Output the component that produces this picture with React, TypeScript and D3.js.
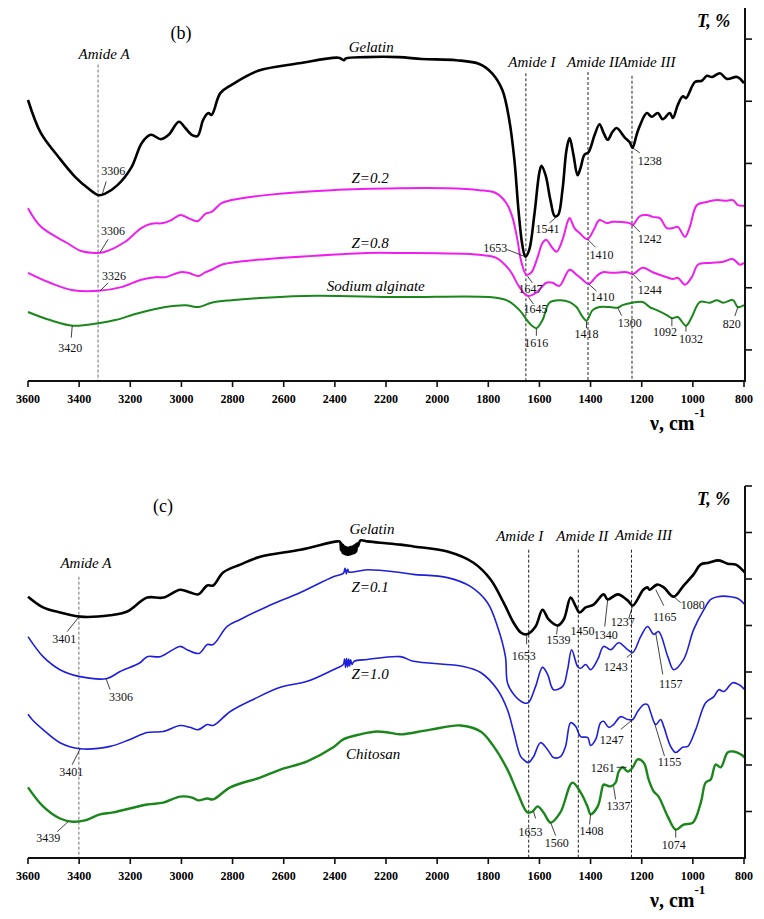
import React from 'react';
import * as d3 from 'd3';

type P = [number, number];

// ---------- shared ----------
const NU_TICKS = [3600, 3400, 3200, 3000, 2800, 2600, 2400, 2200, 2000, 1800, 1600, 1400, 1200, 1000, 800];
const T_TICKS_B = [0, 10, 20, 30, 40, 50];
const T_TICKS_C = [0, 10, 20, 30, 40, 50, 60, 70];

// ---------- panel (b) ----------
const gelatinB: P[] = [
  [3600, 40.2], [3550, 34.9], [3480, 31.0], [3415, 27.8], [3365, 26.0], [3325, 24.9], [3300, 25.1], [3250, 26.5],
  [3195, 29.4], [3155, 33.3], [3120, 34.6], [3080, 33.9], [3050, 34.6], [3010, 36.7], [2985, 35.7], [2960, 34.6],
  [2937, 34.4], [2915, 37.0], [2895, 38.1], [2882, 37.8], [2848, 41.3], [2805, 42.6], [2700, 44.9], [2540, 46.1],
  [2385, 47.0], [2365, 46.6], [2357, 46.9], [2280, 47.1], [2150, 47.1], [2060, 46.8], [1925, 46.6], [1835, 46.0],
  [1785, 44.5], [1745, 41.8], [1718, 37.0], [1698, 30.6], [1682, 22.5], [1667, 16.9], [1655, 15.0], [1640, 16.1],
  [1620, 21.7], [1600, 28.6], [1592, 29.6], [1576, 28.1], [1557, 24.1], [1540, 21.5], [1527, 21.7], [1510, 25.7],
  [1494, 32.2], [1482, 34.1], [1467, 31.4], [1451, 28.1], [1439, 29.3], [1424, 31.4], [1408, 31.8], [1384, 34.6],
  [1365, 36.3], [1349, 34.9], [1333, 33.8], [1314, 35.1], [1298, 35.7], [1267, 34.2], [1247, 33.4], [1236, 32.5],
  [1220, 34.6], [1208, 36.0], [1180, 38.1], [1161, 37.5], [1137, 38.1], [1118, 37.1], [1090, 38.1], [1078, 37.3],
  [1059, 39.4], [1039, 40.8], [1027, 40.5], [992, 43.1], [965, 43.3], [945, 44.1], [925, 43.9], [894, 44.5],
  [867, 43.6], [827, 43.9], [800, 42.9],
];
const z02B: P[] = [
  [3600, 22.8], [3549, 19.8], [3447, 17.2], [3392, 15.9], [3333, 15.6], [3298, 15.8], [3220, 17.4], [3157, 19.6],
  [3118, 20.3], [3071, 20.4], [3039, 20.9], [3004, 21.7], [2973, 21.2], [2937, 20.7], [2906, 21.9], [2882, 22.2],
  [2843, 23.6], [2804, 24.1], [2671, 24.9], [2412, 25.7], [2149, 26.0], [1965, 26.0], [1835, 25.7], [1769, 25.2],
  [1729, 23.6], [1706, 21.4], [1686, 17.7], [1671, 14.2], [1651, 12.1], [1631, 12.5], [1608, 14.8], [1588, 17.2],
  [1573, 17.7], [1553, 16.6], [1533, 15.8], [1510, 17.7], [1490, 20.6], [1482, 21.2], [1463, 19.6], [1443, 18.8],
  [1412, 17.8], [1388, 19.3], [1365, 20.9], [1337, 20.4], [1314, 20.6], [1247, 20.4], [1235, 20.1], [1208, 21.5],
  [1180, 21.7], [1157, 21.4], [1129, 21.2], [1102, 19.6], [1078, 19.6], [1059, 19.8], [1031, 18.2], [1012, 19.8],
  [984, 23.3], [945, 23.8], [906, 24.1], [867, 24.0], [843, 24.1], [824, 23.3], [800, 23.2],
];
const z08B: P[] = [
  [3600, 12.4], [3514, 10.8], [3424, 9.6], [3325, 9.5], [3235, 10.1], [3157, 11.3], [3102, 11.7], [3063, 11.7],
  [3004, 12.5], [2973, 12.4], [2933, 11.9], [2906, 12.5], [2882, 12.9], [2843, 13.7], [2776, 14.2], [2671, 14.6],
  [2412, 15.3], [2278, 15.6], [2149, 15.6], [1835, 15.3], [1769, 14.8], [1718, 12.9], [1678, 10.1], [1647, 8.7],
  [1612, 9.2], [1573, 10.8], [1549, 10.8], [1522, 10.3], [1482, 12.9], [1455, 12.1], [1431, 11.3], [1408, 10.6],
  [1376, 11.9], [1353, 12.5], [1314, 12.4], [1259, 12.5], [1235, 12.2], [1196, 13.2], [1157, 12.5], [1102, 11.7],
  [1078, 11.4], [1059, 11.6], [1031, 10.5], [1004, 11.7], [980, 13.7], [933, 14.0], [882, 14.2], [843, 14.6],
  [816, 13.7], [800, 14.0],
];
const alginateB: P[] = [
  [3600, 6.1], [3514, 4.8], [3424, 3.9], [3325, 4.3], [3259, 4.8], [3169, 5.9], [3063, 6.9], [2984, 7.2],
  [2933, 6.9], [2882, 7.6], [2804, 8.0], [2671, 8.4], [2475, 8.7], [2149, 8.5], [1796, 8.5], [1729, 8.0],
  [1678, 6.4], [1639, 4.3], [1612, 3.5], [1588, 4.8], [1561, 7.6], [1522, 8.0], [1482, 7.7], [1455, 6.9],
  [1431, 5.3], [1416, 4.7], [1392, 6.4], [1365, 6.9], [1325, 6.9], [1294, 6.8], [1275, 7.2], [1235, 7.6],
  [1196, 7.7], [1169, 6.9], [1141, 6.4], [1102, 5.6], [1082, 5.1], [1059, 5.3], [1027, 3.9], [1004, 5.3],
  [973, 7.7], [933, 7.6], [906, 8.0], [882, 7.6], [843, 8.0], [824, 6.9], [800, 7.2],
];

// ---------- panel (c) ----------
const gelatinC: P[] = [
  [3600, 46.2], [3541, 43.9], [3475, 42.8], [3396, 41.9], [3279, 42.2], [3212, 43.0], [3134, 46.0], [3071, 46.0],
  [3005, 47.7], [2966, 47.1], [2934, 46.7], [2899, 48.6], [2876, 48.6], [2837, 51.4], [2770, 53.1], [2692, 54.8],
  [2535, 56.3], [2390, 58.1], [2380, 58.0], [2376, 56.2], [2373, 57.6], [2370, 55.6], [2367, 57.3], [2364, 55.4],
  [2361, 57.0], [2358, 55.3], [2355, 56.8], [2352, 55.2], [2349, 56.7], [2346, 55.2], [2343, 56.8], [2340, 55.3],
  [2337, 56.9], [2334, 55.4], [2331, 57.0], [2328, 55.5], [2325, 57.2], [2322, 55.6], [2319, 57.4], [2316, 55.9],
  [2313, 57.7], [2310, 57.0], [2300, 58.3], [2273, 58.1], [2222, 57.8], [2144, 57.4], [2093, 57.0], [1960, 55.9],
  [1858, 53.5], [1791, 49.9], [1740, 44.9], [1701, 40.6], [1673, 38.5], [1650, 38.1], [1615, 39.8], [1588, 43.4],
  [1564, 41.3], [1529, 40.0], [1505, 41.3], [1478, 46.0], [1458, 44.1], [1443, 42.8], [1419, 43.9], [1388, 44.5],
  [1349, 46.7], [1333, 45.6], [1294, 46.7], [1255, 45.4], [1235, 44.3], [1194, 47.7], [1178, 48.2], [1170, 47.7],
  [1139, 48.8], [1114, 48.2], [1075, 46.2], [1036, 48.6], [997, 51.0], [970, 53.1], [938, 53.5], [899, 54.0],
  [864, 53.3], [832, 53.1], [797, 51.4],
];
const z01C: P[] = [
  [3600, 37.6], [3541, 33.3], [3475, 30.5], [3396, 29.0], [3291, 28.6], [3240, 30.1], [3162, 32.0], [3134, 33.3],
  [3083, 33.3], [3005, 35.5], [2978, 34.8], [2931, 34.0], [2899, 35.9], [2876, 35.9], [2821, 39.8], [2770, 41.3],
  [2664, 44.1], [2535, 47.1], [2406, 50.5], [2367, 51.2], [2360, 52.3], [2355, 51.1], [2350, 52.1], [2345, 51.5],
  [2273, 52.0], [2144, 51.4], [2093, 51.0], [1960, 50.3], [1870, 48.4], [1803, 44.9], [1764, 39.8], [1733, 33.3],
  [1725, 27.7], [1701, 25.2], [1662, 23.4], [1643, 23.4], [1615, 26.9], [1588, 31.0], [1568, 29.5], [1545, 26.2],
  [1509, 26.9], [1490, 30.5], [1474, 34.8], [1451, 31.2], [1439, 30.8], [1419, 31.6], [1400, 30.5], [1372, 32.7],
  [1349, 35.5], [1321, 34.8], [1290, 36.3], [1255, 34.8], [1235, 34.2], [1204, 37.6], [1177, 39.8], [1153, 38.1],
  [1134, 38.7], [1098, 33.3], [1075, 30.5], [1036, 32.7], [997, 39.1], [957, 43.4], [930, 45.6], [903, 46.2],
  [852, 46.2], [824, 45.8], [797, 44.5],
];
const z10C: P[] = [
  [3600, 20.9], [3584, 19.8], [3541, 17.6], [3475, 14.8], [3396, 13.5], [3279, 14.0], [3201, 15.5], [3134, 17.0],
  [3071, 17.2], [3005, 18.5], [2966, 18.1], [2934, 17.6], [2899, 18.7], [2876, 18.5], [2809, 21.5], [2719, 24.1],
  [2613, 26.7], [2508, 28.0], [2406, 30.5], [2367, 31.6], [2362, 32.8], [2358, 31.0], [2354, 32.9], [2350, 31.1],
  [2346, 32.8], [2342, 31.3], [2338, 32.6], [2333, 31.6], [2325, 32.3], [2273, 32.7], [2144, 33.3], [2093, 32.3],
  [1897, 31.2], [1830, 29.9], [1764, 26.2], [1725, 21.9], [1701, 17.2], [1673, 11.8], [1654, 10.8], [1643, 10.5],
  [1623, 11.8], [1596, 14.8], [1568, 13.3], [1545, 11.6], [1518, 11.8], [1498, 14.0], [1478, 19.1], [1458, 18.3],
  [1439, 16.1], [1411, 15.9], [1400, 14.2], [1380, 15.5], [1361, 19.1], [1349, 19.4], [1329, 18.1], [1310, 18.7],
  [1282, 20.4], [1255, 19.8], [1235, 19.8], [1216, 21.5], [1192, 23.0], [1177, 23.0], [1165, 21.3], [1145, 18.7],
  [1126, 19.8], [1114, 18.3], [1087, 14.0], [1067, 12.7], [1040, 13.8], [1020, 14.0], [989, 17.6], [950, 23.4],
  [918, 24.7], [899, 26.2], [879, 25.8], [844, 27.7], [820, 27.3], [797, 26.2],
];
const chitosanC: P[] = [
  [3600, 5.2], [3541, 1.1], [3475, -1.5], [3424, -2.2], [3377, -1.9], [3318, -0.6], [3267, -0.2], [3134, 1.5],
  [3071, 1.9], [3005, 3.2], [2958, 3.0], [2934, 2.4], [2899, 2.8], [2876, 2.6], [2809, 5.2], [2692, 7.3],
  [2613, 9.0], [2508, 10.8], [2406, 13.8], [2367, 15.5], [2300, 16.6], [2234, 17.2], [2144, 16.6], [2132, 16.6],
  [2026, 17.6], [1909, 18.5], [1830, 17.2], [1779, 14.0], [1725, 9.0], [1686, 4.1], [1647, -0.2], [1627, 0.0],
  [1607, 1.1], [1584, -0.2], [1556, -2.4], [1518, -0.2], [1471, 6.2], [1439, 4.1], [1411, 0.9], [1400, -0.6],
  [1372, 1.1], [1353, 5.4], [1349, 5.8], [1321, 5.4], [1302, 6.2], [1290, 8.6], [1275, 9.5], [1255, 8.6],
  [1235, 9.5], [1216, 11.2], [1192, 10.5], [1173, 6.9], [1153, 4.3], [1134, 3.2], [1098, -1.1], [1067, -3.9],
  [1036, -2.8], [1000, -2.4], [969, 1.9], [950, 6.2], [930, 6.9], [911, 10.1], [891, 9.5], [864, 12.7],
  [840, 12.9], [813, 12.3], [797, 11.6],
];

// amide reference lines: wavenumber, label, top of line (T units)
const amideB = [
  { nu: 3326, label: 'Amide A', top: 45.9, gray: true },
  { nu: 1653, label: 'Amide I', top: 44.5, gray: false },
  { nu: 1410, label: 'Amide II', top: 44.7, gray: false },
  { nu: 1238, label: 'Amide III', top: 44.1, gray: false },
];
const amideC = [
  { nu: 3401, label: 'Amide A', top: 50.5, gray: true },
  { nu: 1642, label: 'Amide I', top: 56.3, gray: false },
  { nu: 1448, label: 'Amide II', top: 56.3, gray: false },
  { nu: 1240, label: 'Amide III', top: 56.3, gray: false },
];

// peak annotations: text, anchor (nu, T)
const peaksB = [
  { text: '3306', nu: 3310, t: 25.0 }, { text: '1238', nu: 1235, t: 32.5 }, { text: '1541', nu: 1533, t: 21.4 },
  { text: '1653', nu: 1655, t: 15.0 }, { text: '1647', nu: 1647, t: 11.9 }, { text: '1645', nu: 1643, t: 8.5 },
  { text: '1410', nu: 1412, t: 17.8 }, { text: '1242', nu: 1235, t: 20.1 }, { text: '1410', nu: 1408, t: 10.6 },
  { text: '1244', nu: 1235, t: 12.2 }, { text: '1616', nu: 1612, t: 3.4 }, { text: '1418', nu: 1416, t: 4.6 },
  { text: '1300', nu: 1294, t: 6.8 }, { text: '1092', nu: 1082, t: 5.1 }, { text: '1032', nu: 1027, t: 3.9 },
  { text: '820', nu: 824, t: 6.9 }, { text: '3306', nu: 3318, t: 15.7 }, { text: '3326', nu: 3318, t: 9.5 },
  { text: '3420', nu: 3427, t: 3.9 },
];
// leader-end and text-centre offsets (px) for each annotation above
const peakOffsetsB: [number, number, number, number][] = [
  [4, -13, 11, -24], [7, 5, 17, 13], [-7, 6, -9, 12], [-18, -7, -30, -9], [5, 7, 3, 13], [5, 7, 7, 12],
  [8, 8, 14, 16], [7, 7, 17, 14], [8, 7, 14, 13], [8, 8, 17, 16], [0, 7, 0, 14], [0, 7, 0, 13],
  [4, 8, 12, 15], [0, 8, -7, 14], [0, 6, 5, 13], [-3, 9, -6, 17], [8, -13, 13, -21], [8, -8, 14, -15],
  [-1, 12, -2, 22],
];
const peaksC = [
  { text: '3401', nu: 3400, t: 41.9 }, { text: '1653', nu: 1650, t: 38.1 }, { text: '1539', nu: 1529, t: 40.0 },
  { text: '1450', nu: 1443, t: 42.8 }, { text: '1340', nu: 1333, t: 45.6 }, { text: '1237', nu: 1235, t: 44.3 },
  { text: '1165', nu: 1145, t: 47.7 }, { text: '1080', nu: 1075, t: 46.2 }, { text: '3306', nu: 3295, t: 28.6 },
  { text: '1243', nu: 1235, t: 34.2 }, { text: '1157', nu: 1145, t: 38.3 }, { text: '3401', nu: 3396, t: 13.5 },
  { text: '1247', nu: 1235, t: 19.8 }, { text: '1155', nu: 1150, t: 19.0 }, { text: '3439', nu: 3443, t: -2.2 },
  { text: '1653', nu: 1623, t: 0.0 }, { text: '1560', nu: 1556, t: -2.4 }, { text: '1408', nu: 1400, t: -0.6 },
  { text: '1337', nu: 1310, t: 5.4 }, { text: '1261', nu: 1259, t: 9.5 }, { text: '1074', nu: 1067, t: -3.9 },
];
const peakOffsetsC: [number, number, number, number][] = [
  [-12, 15, -15, 22], [0, 10, -3, 22], [-1, 9, 1, 14], [0, 0, 3, 19], [-3, 27, -2, 36], [-4, 13, -10, 16],
  [8, 16, 9, 27], [7, 6, 19, 8], [4, 11, 15, 18], [-6, 5, -17, 15], [7, 41, 15, 51], [-8, 16, -9, 23],
  [-12, 10, -21, 21], [10, 33, 15, 39], [-11, 10, -20, 16], [2, 7, -3, 20], [5, 13, 6, 20], [-1, 10, 1, 17],
  [2, 13, 5, 20], [-10, 0, -24, 1], [0, 8, -2, 15],
];

const seriesNamesB = [
  { text: 'Gelatin', nu: 2258, t: 47.9 }, { text: 'Z=0.2', nu: 2262, t: 26.9 },
  { text: 'Z=0.8', nu: 2262, t: 16.4 }, { text: 'Sodium alginate', nu: 2240, t: 9.5 },
];
const seriesNamesC = [
  { text: 'Gelatin', nu: 2255, t: 59.6 }, { text: 'Z=0.1', nu: 2262, t: 47.1 },
  { text: 'Z=1.0', nu: 2262, t: 28.6 }, { text: 'Chitosan', nu: 2250, t: 11.2 },
];

const SERIF = "'Liberation Serif', 'Times New Roman', Times, serif";
const BLACK = '#000000';
const MAGENTA = '#ee1fee';
const BLUE = '#1f1fd8';
const GREEN = '#1b861b';

interface PanelProps {
  tag: string;
  yDomain: [number, number];
  yRange: [number, number];
  yTicks: number[];
  series: { data: P[]; color: string; width: number }[];
  amides: { nu: number; label: string; top: number; gray: boolean }[];
  amideText: { dx: number; baseline: number }[];
  peaks: { text: string; nu: number; t: number }[];
  offsets: [number, number, number, number][];
  names: { text: string; nu: number; t: number }[];
  tagPos: [number, number];
}

const x = d3.scaleLinear().domain([3600, 800]).range([28, 744]);

function Panel(p: PanelProps) {
  const y = d3.scaleLinear().domain(p.yDomain).range(p.yRange);
  const axisY = p.yRange[0];
  const topY = p.yRange[1];
  const axisX = 745;
  const line = d3
    .line<P>()
    .x((d) => x(d[0]))
    .y((d) => y(d[1]))
    .curve(d3.curveCatmullRom.alpha(0.5));
  return (
    <g>
      {/* amide lines */}
      {p.amides.map((a, i) => (
        <g key={'a' + i}>
          <line
            x1={x(a.nu)}
            x2={x(a.nu)}
            y1={y(a.top)}
            y2={axisY}
            stroke={a.gray ? '#6f6f6f' : '#222'}
            strokeWidth={1}
            strokeDasharray="3,2"
          />
          <text
            x={x(a.nu) + p.amideText[i].dx}
            y={p.amideText[i].baseline}
            textAnchor="middle"
            fontFamily={SERIF}
            fontStyle="italic"
            fontSize={15}
          >
            {a.label}
          </text>
        </g>
      ))}
      {/* curves */}
      {p.series.map((s, i) => (
        <path key={'s' + i} d={line(s.data) || ''} fill="none" stroke={s.color} strokeWidth={s.width} strokeLinejoin="round" />
      ))}
      {/* series names */}
      {p.names.map((n, i) => (
        <text key={'n' + i} x={x(n.nu)} y={y(n.t)} textAnchor="middle" fontFamily={SERIF} fontStyle="italic" fontSize={15}>
          {n.text}
        </text>
      ))}
      {/* peak annotations */}
      {p.peaks.map((pk, i) => {
        const ax = x(pk.nu);
        const ay = y(pk.t);
        const o = p.offsets[i];
        return (
          <g key={'p' + i}>
            {(o[0] !== 0 || o[1] !== 0) && (
              <line x1={ax} y1={ay} x2={ax + o[0]} y2={ay + o[1]} stroke="#111" strokeWidth={0.8} />
            )}
            <text
              x={ax + o[2]}
              y={ay + o[3]}
              textAnchor="middle"
              dominantBaseline="central"
              fontFamily={SERIF}
              fontSize={12}
              fill="#111"
            >
              {pk.text}
            </text>
          </g>
        );
      })}
      {/* bottom axis */}
      <line x1={x(3600)} x2={axisX + 1} y1={axisY} y2={axisY} stroke="#111" strokeWidth={2} />
      {NU_TICKS.map((t) => (
        <g key={'xt' + t}>
          <line x1={x(t)} x2={x(t)} y1={axisY} y2={axisY + 6} stroke="#111" strokeWidth={1.6} />
          <text
            x={x(t)}
            y={axisY + 18}
            textAnchor="middle"
            dominantBaseline="central"
            fontFamily={SERIF}
            fontWeight="bold"
            fontSize={12}
          >
            {t}
          </text>
        </g>
      ))}
      <text x={650} y={axisY + 49} fontFamily={SERIF} fontWeight="bold" fontSize={20}>
        ν, cm
        <tspan dy={-13} fontSize={13}>
          -1
        </tspan>
      </text>
      {/* right axis */}
      <line x1={axisX} x2={axisX} y1={topY} y2={axisY} stroke="#111" strokeWidth={2} />
      {p.yTicks.map((t) => (
        <line key={'yt' + t} x1={axisX} x2={axisX + 7} y1={y(t)} y2={y(t)} stroke="#111" strokeWidth={1.6} />
      ))}
      <text x={697} y={topY + 19} fontFamily={SERIF} fontWeight="bold" fontStyle="italic" fontSize={18}>
        T, %
      </text>
      <text x={p.tagPos[0]} y={p.tagPos[1]} textAnchor="middle" fontFamily={SERIF} fontSize={18}>
        {p.tag}
      </text>
    </g>
  );
}

export default function App() {
  return (
    <svg width={764} height={919} style={{ position: 'absolute', left: 0, top: 0, background: '#fff' }}>
      <rect width={764} height={919} fill="#fff" />
      <Panel
        tag="(b)"
        tagPos={[181, 39]}
        yDomain={[-5, 55]}
        yRange={[381, 8]}
        yTicks={T_TICKS_B}
        series={[
          { data: alginateB, color: GREEN, width: 2 },
          { data: z08B, color: MAGENTA, width: 2 },
          { data: z02B, color: MAGENTA, width: 2 },
          { data: gelatinB, color: BLACK, width: 2.6 },
        ]}
        amides={amideB}
        amideText={[
          { dx: 6, baseline: 59 },
          { dx: 6, baseline: 67 },
          { dx: 5, baseline: 67 },
          { dx: 15, baseline: 67 },
        ]}
        peaks={peaksB}
        offsets={peakOffsetsB}
        names={seriesNamesB}
      />
      <Panel
        tag="(c)"
        tagPos={[163, 512]}
        yDomain={[-10, 70]}
        yRange={[858, 486]}
        yTicks={T_TICKS_C}
        series={[
          { data: chitosanC, color: GREEN, width: 2.4 },
          { data: z10C, color: BLUE, width: 1.6 },
          { data: z01C, color: BLUE, width: 1.6 },
          { data: gelatinC, color: BLACK, width: 2.6 },
        ]}
        amides={amideC}
        amideText={[
          { dx: 7, baseline: 568 },
          { dx: -9, baseline: 541 },
          { dx: 4, baseline: 541 },
          { dx: 12, baseline: 540 },
        ]}
        peaks={peaksC}
        offsets={peakOffsetsC}
        names={seriesNamesC}
      />
    </svg>
  );
}
